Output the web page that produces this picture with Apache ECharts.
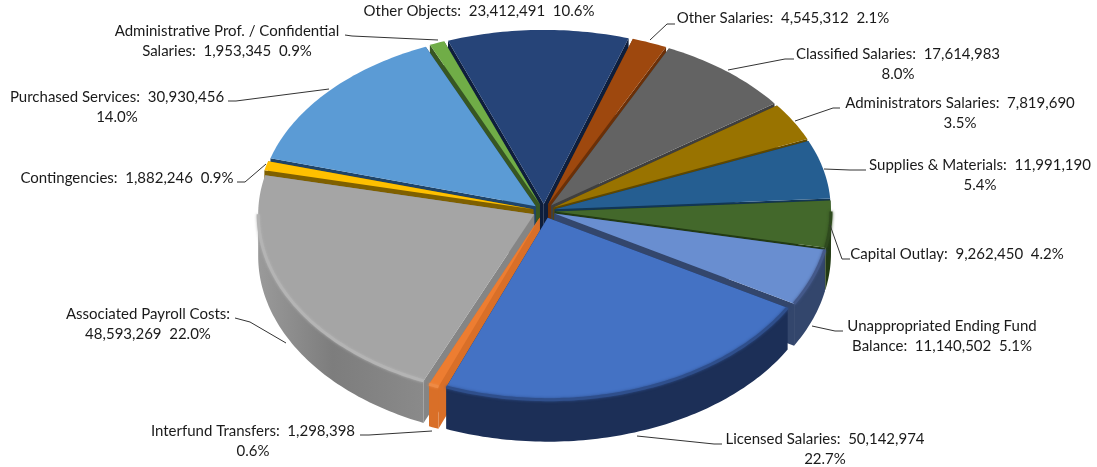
<!DOCTYPE html>
<html><head><meta charset="utf-8">
<style>html,body{margin:0;padding:0;background:#fff}#c{width:1097px;height:467px}</style>
<script src="https://cdn.jsdelivr.net/npm/echarts@6/dist/echarts.min.js"></script>
</head><body><div id="c"></div>
<script>
const categories = ['Capital Outlay','Unappropriated Ending Fund Balance','Licensed Salaries','Interfund Transfers','Associated Payroll Costs','Contingencies','Purchased Services','Administrative Prof. / Confidential Salaries','Other Objects','Other Salaries','Classified Salaries','Administrators Salaries','Supplies & Materials'];
const amounts = [9262450,11140502,50142974,1298398,48593269,1882246,30930456,1953345,23412491,4545312,17614983,7819690,11991190];
const topColors  = ['#43682B','#698ED0','#4472C4','#ED7D31','#A5A5A5','#FFC000','#5B9BD5','#70AD47','#264478','#9E480E','#636363','#997300','#255E91'];
const sideColors = ['#223a14','#33466c','#1c2f57','#d96f28','#858585','#7f6000','#1f4468','#375623','#0e1e3c','#6b3008','#3f3f3f','#5e4700','#123654'];
const rimColors  = ['#2f4a1e','#44598a','#2f4f8c','#ee8a45','#b4b4b4','#d9a400','#44729c','#557f37','#1d3560','#843c0b','#525252','#7d5e00','#1d4a73'];
const labelLines = [
  ['{c}:  {v}  {p}'],['Unappropriated Ending Fund','Balance:  {v}  {p}'],['{c}:  {v}','{p}'],['{c}:  {v}','{p}'],
  ['{c}:','{v}  {p}'],['{c}:  {v}  {p}'],['{c}:  {v}','{p}'],['Administrative Prof. / Confidential','Salaries:  {v}  {p}'],
  ['{c}:  {v}  {p}'],['{c}:  {v}  {p}'],['{c}:  {v}','{p}'],['{c}:  {v}','{p}'],['{c}:  {v}','{p}']
];
// label layout: text centre x, first-line centre y, leader polyline
const labelLayout = [
  {x:957,y:254,l:[[850,259],[842,259],[830,225]]},
  {x:942,y:326,l:[[843,331],[835,331],[812,326]]},
  {x:825,y:439,l:[[722,444],[714,444],[637,436]]},
  {x:253,y:431,l:[[360,435],[369,435],[432,431]]},
  {x:148,y:314,l:[[235,318],[250,322],[286,343]]},
  {x:127,y:178,l:[[237,182],[245,182],[266,164]]},
  {x:117,y:97,l:[[228,101],[236,101],[329,89]]},
  {x:227,y:31,l:[[345,35],[352,36],[438,40]]},
  {x:479,y:11,l:[]},
  {x:783,y:18,l:[[675,24],[667,24],[650,40]]},
  {x:898,y:54,l:[[794,59],[785,59],[728,70]]},
  {x:960,y:103,l:[[840,108],[833,108],[795,121]]},
  {x:980,y:165,l:[[866,170],[850,170],[824,169]]}
];
const CX=544, CY=211, RX=276, RY_BACK=174, RY_FRONT=182, DEPTH=42, EXPLODE=11, START=-3.6;
const total = amounts.reduce((a,b)=>a+b,0);
const rad = d=>d*Math.PI/180;
let cum=START;
const slices = amounts.map((v,i)=>{const a0=cum; const a1=cum+v/total*360; cum=a1; const m=(a0+a1)/2;
  return {i,a0,a1,m,ox:Math.cos(rad(m))*EXPLODE,oy:Math.sin(rad(m))*EXPLODE};});
const order = slices.slice().sort((a,b)=>Math.sin(rad(a.m))-Math.sin(rad(b.m))).map(s=>s.i);
const KMID=(RY_BACK+RY_FRONT)/2/RX;
function pt(s,a,r,dz){const sn=Math.sin(rad(a));const ry=(sn>=0?RY_FRONT:RY_BACK)/RX;
  return [CX+s.ox+Math.cos(rad(a))*r, CY+KMID*s.oy+sn*r*ry+dz];}
function arc(s,a0,a1,dz){const n=Math.max(2,Math.ceil(Math.abs(a1-a0)));const out=[];
  for(let j=0;j<=n;j++){out.push(pt(s,a0+(a1-a0)*j/n,RX,dz));}return out;}
function renderSlice(params,api){
  const s=slices[api.value(0)], i=s.i, rank=order.indexOf(i)*10;
  const kids=[];
  const apex=pt(s,0,0,0), apexB=pt(s,0,0,DEPTH);
  const side=sideColors[i];
  [s.a0,s.a1].forEach(a=>{const e=pt(s,a,RX,0),eb=pt(s,a,RX,DEPTH);
    kids.push({type:'polygon',z2:rank,shape:{points:[apex,e,eb,apexB]},style:{fill:side}});});
  const lo=Math.max(s.a0,0), hi=Math.min(s.a1,180);
  if(hi>lo){
    const t=arc(s,lo,hi,0), b=arc(s,hi,lo,DEPTH);
    const fill= i===4 ? {type:'linear',x:0,y:0,x2:1,y2:0,colorStops:[{offset:0,color:'#9a9a9a'},{offset:.45,color:'#7d7d7d'},{offset:1,color:'#8a8a8a'}]} : side;
    kids.push({type:'polygon',z2:rank+1,shape:{points:t.concat(b)},style:{fill}});
    kids.push({type:'polyline',z2:rank+3,shape:{points:t},style:{fill:null,stroke:rimColors[i],lineWidth:3,shadowBlur:3,shadowColor:rimColors[i]}});
  }
  const topPts=[apex].concat(arc(s,s.a0,s.a1,0));
  kids.push({type:'polygon',z2:rank+2,shape:{points:topPts},style:{fill:topColors[i]}});
  return {type:'group',children:kids};
}
function renderLabel(params,api){
  const i=api.value(0), L=labelLayout[i], kids=[];
  const pct=(amounts[i]/total*100).toFixed(1)+'%';
  const txt=labelLines[i].map(t=>t.replace('{c}',categories[i]).replace('{v}',amounts[i].toLocaleString('en-US')).replace('{p}',pct));
  txt.forEach((t,n)=>kids.push({type:'text',z2:2000,style:{x:L.x,y:L.y+n*20,text:t,align:'center',verticalAlign:'middle',fontFamily:'Lato',fontSize:15,fill:'#1a1a1a'}}));
  if(L.l.length)kids.push({type:'polyline',z2:1999,shape:{points:L.l},style:{fill:null,stroke:'#333',lineWidth:1}});
  return {type:'group',children:kids};
}
const chart=echarts.init(document.getElementById('c'),null,{renderer:'canvas'});
chart.setOption({animation:false,backgroundColor:'#fff',
  series:[
    {type:'custom',coordinateSystem:'none',renderItem:renderSlice,data:amounts.map((v,i)=>[i,v]),encode:{value:1},silent:true},
    {type:'custom',coordinateSystem:'none',renderItem:renderLabel,data:amounts.map((v,i)=>[i,v]),encode:{value:1},silent:true}
  ]});
</script></body></html>
